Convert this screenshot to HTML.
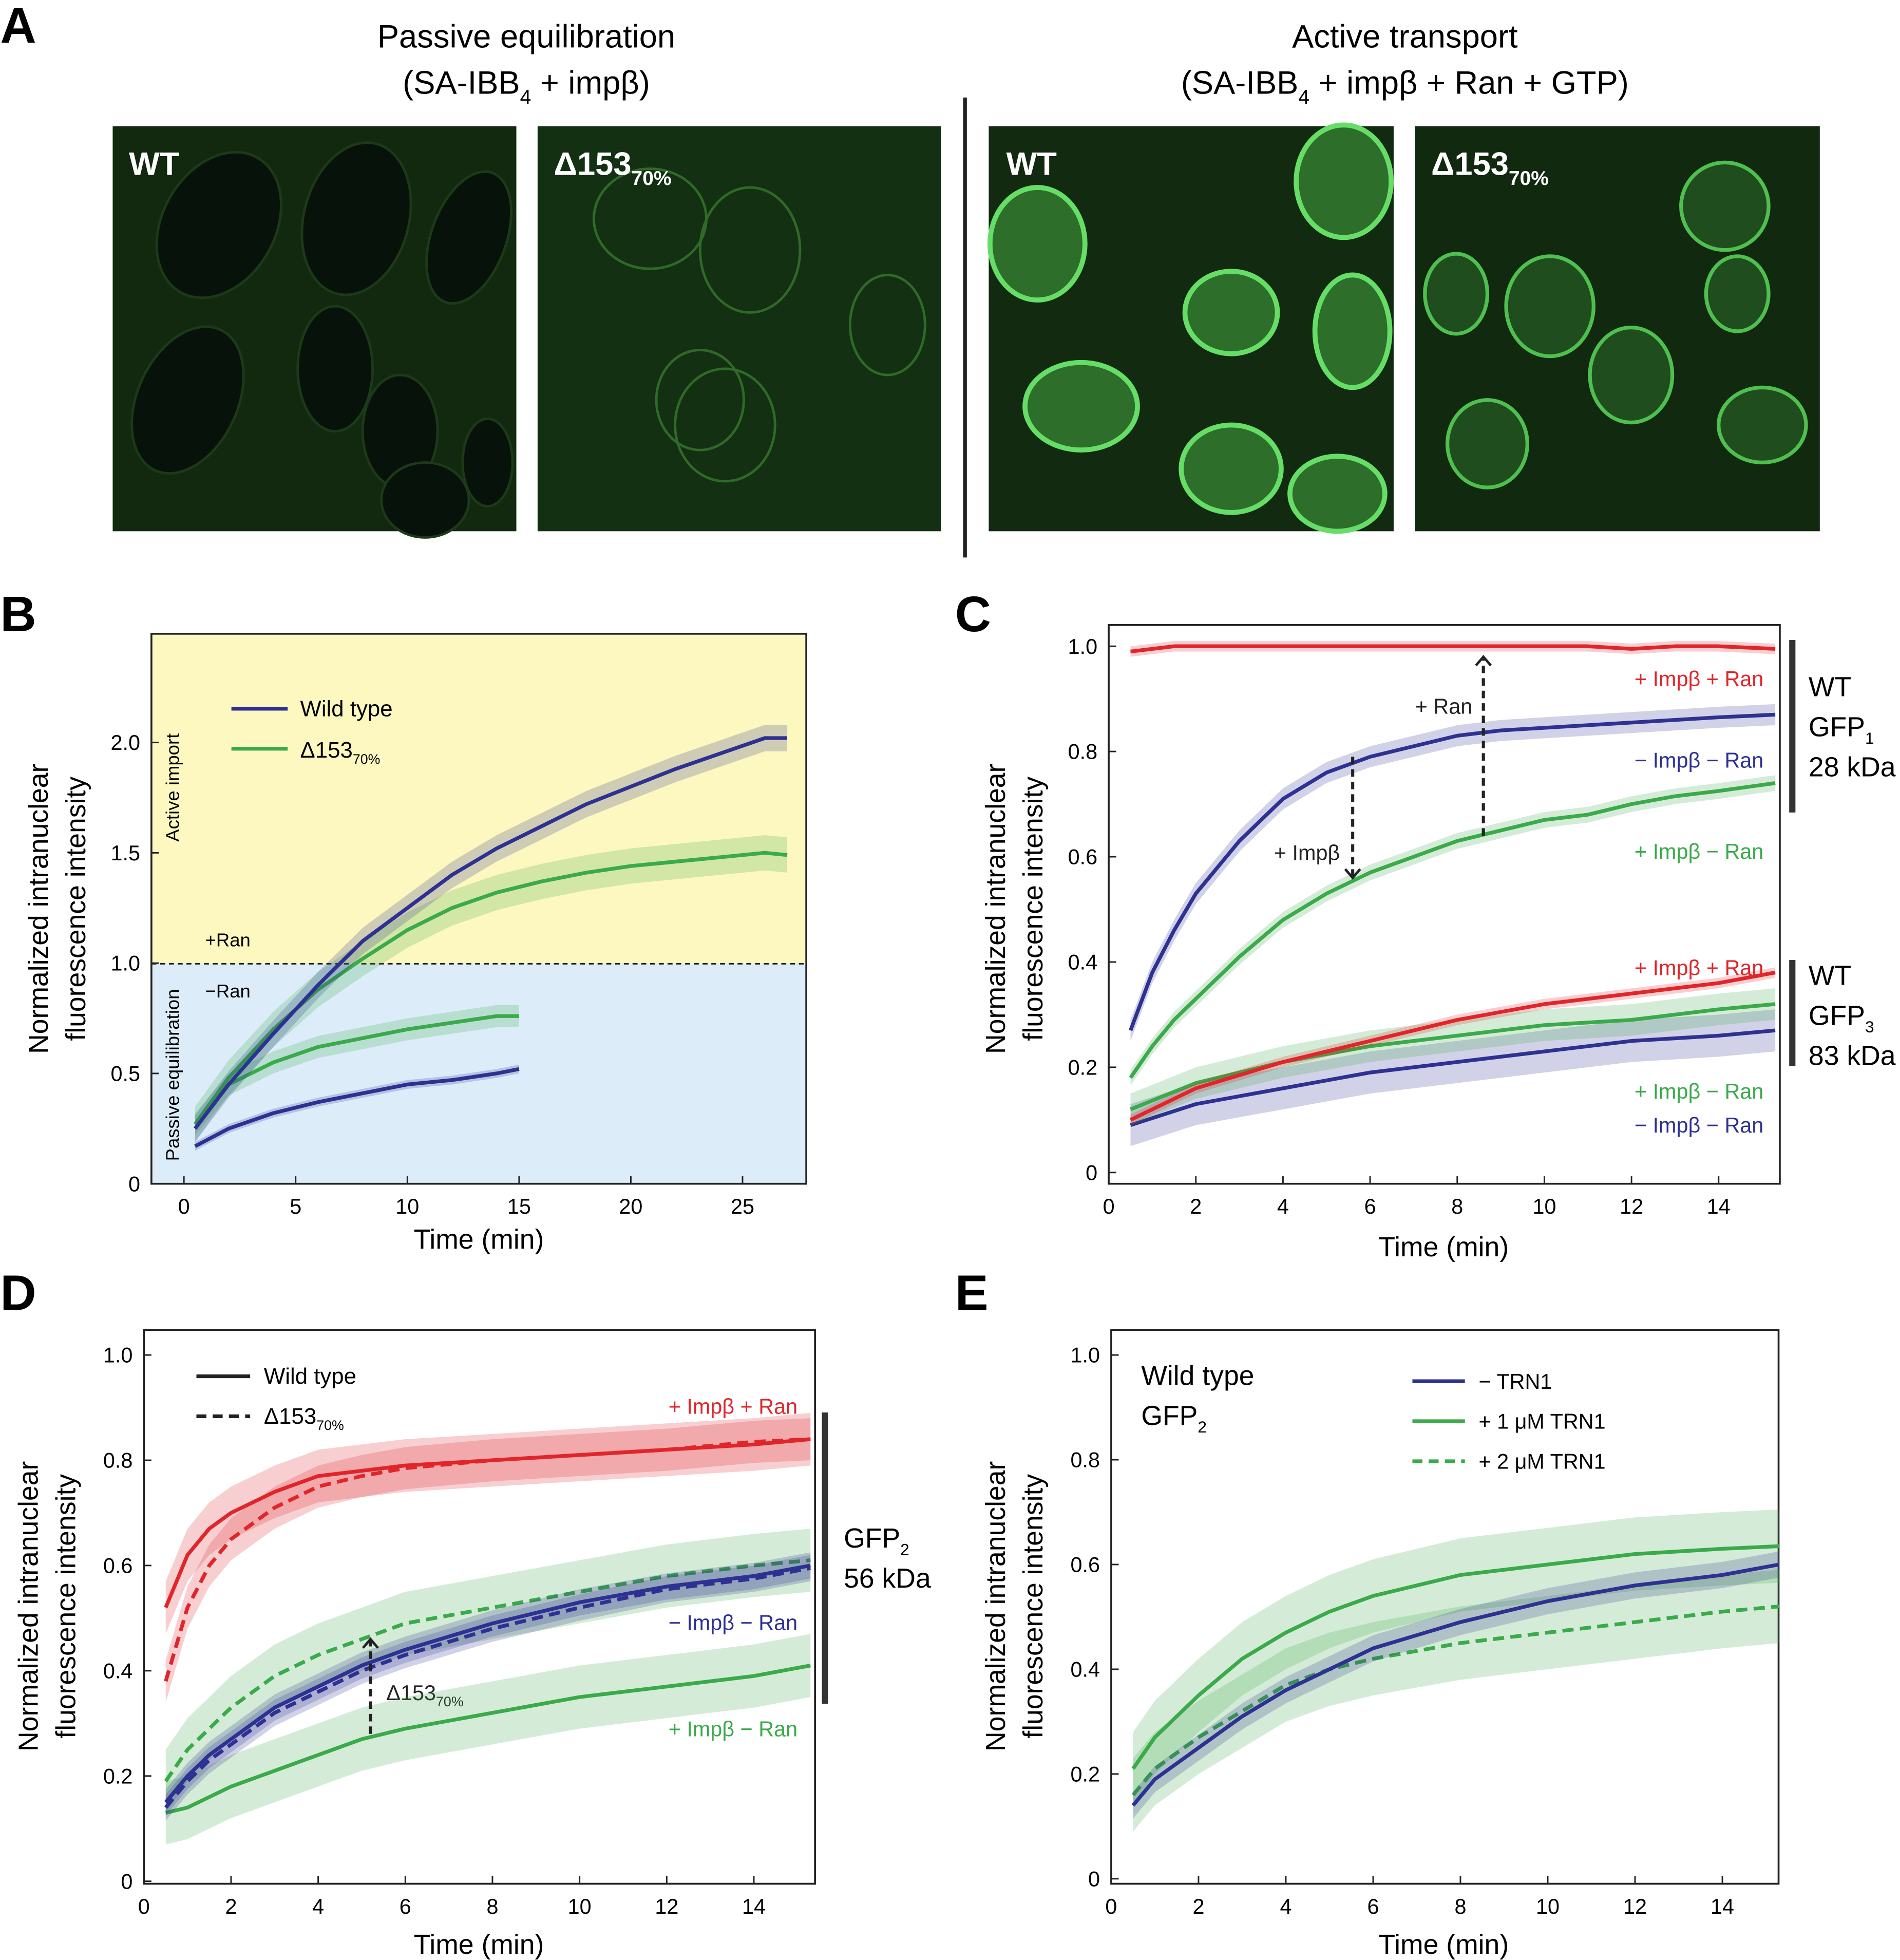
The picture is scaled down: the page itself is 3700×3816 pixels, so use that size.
<!DOCTYPE html>
<html><head><meta charset="utf-8"><style>
html,body{margin:0;padding:0;background:#fff}
svg{display:block;font-family:"Liberation Sans",Arial,sans-serif}
</style></head><body>
<svg id="fig" xmlns="http://www.w3.org/2000/svg" width="3700" height="3816" viewBox="0 0 1520 1568">
<rect width="1520" height="1568" fill="#fff"/>
<!-- Panel A -->
<g>
<text x="0" y="34" font-size="40" font-weight="bold">A</text>
<text x="421" y="38" font-size="26" text-anchor="middle">Passive equilibration</text>
<text x="421" y="75" font-size="26" text-anchor="middle">(SA-IBB<tspan font-size="16" dy="8">4</tspan><tspan dy="-8"> + impβ)</tspan></text>
<text x="1124" y="38" font-size="26" text-anchor="middle">Active transport</text>
<text x="1124" y="75" font-size="26" text-anchor="middle">(SA-IBB<tspan font-size="16" dy="8">4</tspan><tspan dy="-8"> + impβ + Ran + GTP)</tspan></text>
<line x1="772" y1="78" x2="772" y2="446" stroke="#222" stroke-width="3"/>
<g>
<rect x="90" y="101" width="323" height="324" fill="#12290f"/>
<g fill="#07130a" stroke="#1d3a18" stroke-width="2">
<ellipse cx="175" cy="180" rx="45" ry="62" transform="rotate(30 175 180)"/>
<ellipse cx="285" cy="175" rx="42" ry="62" transform="rotate(15 285 175)"/>
<ellipse cx="375" cy="190" rx="30" ry="55" transform="rotate(20 375 190)"/>
<ellipse cx="150" cy="320" rx="40" ry="62" transform="rotate(25 150 320)"/>
<ellipse cx="268" cy="295" rx="30" ry="50"/>
<ellipse cx="320" cy="345" rx="30" ry="45"/>
<ellipse cx="340" cy="400" rx="35" ry="30"/>
<ellipse cx="390" cy="370" rx="20" ry="35"/>
</g>
<text x="103" y="140" font-size="26" font-weight="bold" fill="#fff">WT</text>
</g>
<g>
<rect x="430" y="101" width="323" height="324" fill="#143012"/>
<g fill="none" stroke="#2f6a28" stroke-width="2">
<ellipse cx="520" cy="175" rx="45" ry="40"/>
<ellipse cx="600" cy="200" rx="40" ry="50"/>
<ellipse cx="560" cy="320" rx="35" ry="40"/>
<ellipse cx="580" cy="340" rx="40" ry="45"/>
<ellipse cx="710" cy="260" rx="30" ry="40"/>
</g>
<text x="443" y="140" font-size="26" font-weight="bold" fill="#fff">Δ153<tspan font-size="16" dy="8">70%</tspan></text>
</g>
<g>
<rect x="791" y="101" width="324" height="324" fill="#112a10"/>
<g fill="#2c6e2a" stroke="#66dd66" stroke-width="4">
<ellipse cx="830" cy="195" rx="38" ry="45"/>
<ellipse cx="1075" cy="145" rx="38" ry="45"/>
<ellipse cx="985" cy="250" rx="37" ry="33"/>
<ellipse cx="1082" cy="265" rx="30" ry="45"/>
<ellipse cx="865" cy="325" rx="45" ry="35"/>
<ellipse cx="985" cy="375" rx="40" ry="35"/>
<ellipse cx="1070" cy="395" rx="38" ry="30"/>
</g>
<text x="805" y="140" font-size="26" font-weight="bold" fill="#fff">WT</text>
</g>
<g>
<rect x="1132" y="101" width="324" height="324" fill="#11290f"/>
<g fill="#1f4d1e" stroke="#4fbf4f" stroke-width="3">
<ellipse cx="1380" cy="165" rx="35" ry="35"/>
<ellipse cx="1240" cy="245" rx="35" ry="40"/>
<ellipse cx="1165" cy="235" rx="25" ry="32"/>
<ellipse cx="1390" cy="235" rx="25" ry="30"/>
<ellipse cx="1305" cy="300" rx="33" ry="38"/>
<ellipse cx="1190" cy="355" rx="32" ry="35"/>
<ellipse cx="1410" cy="340" rx="35" ry="30"/>
</g>
<text x="1145" y="140" font-size="26" font-weight="bold" fill="#fff">Δ153<tspan font-size="16" dy="8">70%</tspan></text>
</g>
</g>

<!-- Panel B static -->
<g>
<text x="0" y="505" font-size="40" font-weight="bold">B</text>
<rect x="121" y="507" width="524" height="264" fill="#fdf8c0"/>
<rect x="121" y="771" width="524" height="176" fill="#dcedf9"/>
<line x1="121" y1="771" x2="645" y2="771" stroke="#222" stroke-width="1.2" stroke-dasharray="4,3"/>
<text x="143" y="630" font-size="15" transform="rotate(-90 143 630)" text-anchor="middle">Active import</text>
<text x="143" y="860" font-size="15" transform="rotate(-90 143 860)" text-anchor="middle">Passive equilibration</text>
<text x="164" y="757" font-size="15">+Ran</text>
<text x="164" y="798" font-size="15">−Ran</text>
<g>
<line x1="185" y1="567" x2="230" y2="567" stroke="#2e3192" stroke-width="3"/><text x="240" y="573" font-size="18">Wild type</text>
<line x1="185" y1="599" x2="230" y2="599" stroke="#3aaa4a" stroke-width="3"/><text x="240" y="606" font-size="18">Δ153<tspan font-size="11" dy="5">70%</tspan></text>
</g>
<text x="38" y="727" font-size="22" text-anchor="middle" transform="rotate(-90 38 727)">Normalized intranuclear</text>
<text x="68" y="727" font-size="22" text-anchor="middle" transform="rotate(-90 68 727)">fluorescence intensity</text>
<text x="383" y="999" font-size="22" text-anchor="middle">Time (min)</text>
</g>

<!-- Panel C static -->
<g>
<text x="764" y="505" font-size="40" font-weight="bold">C</text>
<text x="804" y="727" font-size="22" text-anchor="middle" transform="rotate(-90 804 727)">Normalized intranuclear</text>
<text x="834" y="727" font-size="22" text-anchor="middle" transform="rotate(-90 834 727)">fluorescence intensity</text>
<text x="1155" y="1005" font-size="22" text-anchor="middle">Time (min)</text>
<g font-size="17" text-anchor="end">
<text x="1411" y="549" fill="#e0262b">+ Impβ + Ran</text>
<text x="1411" y="614" fill="#2e3192">− Impβ − Ran</text>
<text x="1411" y="687" fill="#3aaa4a">+ Impβ − Ran</text>
<text x="1411" y="780" fill="#e0262b">+ Impβ + Ran</text>
<text x="1411" y="879" fill="#3aaa4a">+ Impβ − Ran</text>
<text x="1411" y="906" fill="#2e3192">− Impβ − Ran</text>
<text x="1178" y="571" fill="#222">+ Ran</text>
<text x="1072" y="688" fill="#222">+ Impβ</text>
</g>
<line x1="1434" y1="512" x2="1434" y2="650" stroke="#333" stroke-width="5"/>
<line x1="1434" y1="768" x2="1434" y2="853" stroke="#333" stroke-width="5"/>
<g font-size="22">
<text x="1447" y="557">WT</text><text x="1447" y="589">GFP<tspan font-size="13" dy="6">1</tspan></text><text x="1447" y="621">28 kDa</text>
<text x="1447" y="788">WT</text><text x="1447" y="820">GFP<tspan font-size="13" dy="6">3</tspan></text><text x="1447" y="852">83 kDa</text>
</g>
</g>

<!-- Panel D static -->
<g>
<text x="0" y="1048" font-size="40" font-weight="bold">D</text>
<text x="30" y="1285" font-size="22" text-anchor="middle" transform="rotate(-90 30 1285)">Normalized intranuclear</text>
<text x="60" y="1285" font-size="22" text-anchor="middle" transform="rotate(-90 60 1285)">fluorescence intensity</text>
<text x="383" y="1563" font-size="22" text-anchor="middle">Time (min)</text>
<g>
<line x1="157" y1="1101" x2="200" y2="1101" stroke="#222" stroke-width="3"/><text x="211" y="1107" font-size="18">Wild type</text>
<line x1="157" y1="1133" x2="200" y2="1133" stroke="#222" stroke-width="3" stroke-dasharray="8,5"/><text x="211" y="1139" font-size="18">Δ153<tspan font-size="11" dy="5">70%</tspan></text>
</g>
<g font-size="17" text-anchor="end">
<text x="638" y="1131" fill="#e0262b">+ Impβ + Ran</text>
<text x="638" y="1304" fill="#2e3192">− Impβ − Ran</text>
<text x="638" y="1389" fill="#3aaa4a">+ Impβ − Ran</text>
</g>
<text x="309" y="1360" font-size="17" fill="#222">Δ153<tspan font-size="11" dy="5">70%</tspan></text>
<line x1="660" y1="1130" x2="660" y2="1363" stroke="#333" stroke-width="5"/>
<text x="675" y="1238" font-size="22">GFP<tspan font-size="13" dy="6">2</tspan></text>
<text x="675" y="1270" font-size="22">56 kDa</text>
</g>

<!-- Panel E static -->
<g>
<text x="764" y="1048" font-size="40" font-weight="bold">E</text>
<text x="804" y="1285" font-size="22" text-anchor="middle" transform="rotate(-90 804 1285)">Normalized intranuclear</text>
<text x="834" y="1285" font-size="22" text-anchor="middle" transform="rotate(-90 834 1285)">fluorescence intensity</text>
<text x="1155" y="1563" font-size="22" text-anchor="middle">Time (min)</text>
<text x="913" y="1108" font-size="22">Wild type</text>
<text x="913" y="1140" font-size="22">GFP<tspan font-size="13" dy="6">2</tspan></text>
<g>
<line x1="1130" y1="1105" x2="1172" y2="1105" stroke="#2e3192" stroke-width="3"/><text x="1183" y="1111" font-size="17">− TRN1</text>
<line x1="1130" y1="1137" x2="1172" y2="1137" stroke="#3aaa4a" stroke-width="3"/><text x="1183" y="1143" font-size="17">+ 1 μM TRN1</text>
<line x1="1130" y1="1169" x2="1172" y2="1169" stroke="#3aaa4a" stroke-width="3" stroke-dasharray="8,5"/><text x="1183" y="1175" font-size="17">+ 2 μM TRN1</text>
</g>
</g>
<g id="dyn"></g>
</svg>
<script>
// ---- Panel B data ----
const bTimeActive = [0.5,2,4,6,8,10,12,14,16,18,20,22,24,26,27];
const bWtActive   = [0.25,0.45,0.68,0.9,1.1,1.25,1.4,1.52,1.62,1.72,1.8,1.88,1.95,2.02,2.02];
const bMutActive  = [0.27,0.48,0.7,0.88,1.02,1.15,1.25,1.32,1.37,1.41,1.44,1.46,1.48,1.5,1.49];
const bTimePassive = [0.5,2,4,6,8,10,12,14,15];
const bMutPassive = [0.27,0.45,0.55,0.62,0.66,0.7,0.73,0.76,0.76];
const bWtPassive  = [0.17,0.25,0.32,0.37,0.41,0.45,0.47,0.5,0.52];
const bXTicks = [0,5,10,15,20,25];
const bYTicks = [0,0.5,1.0,1.5,2.0];
const bYLabels = ['0','0.5','1.0','1.5','2.0'];
// ---- Panel C data ----
const cTime = [0.5,1,1.5,2,3,4,5,6,7,8,9,10,11,12,13,14,15.3];
const cRed1 = [0.99,0.995,1.0,1.0,1.0,1.0,1.0,1.0,1.0,1.0,1.0,1.0,1.0,0.995,1.0,1.0,0.995];
const cBlue1 = [0.27,0.38,0.46,0.53,0.63,0.71,0.76,0.79,0.81,0.83,0.84,0.845,0.85,0.855,0.86,0.865,0.87];
const cGreen1 = [0.18,0.24,0.29,0.33,0.41,0.48,0.53,0.57,0.6,0.63,0.65,0.67,0.68,0.7,0.715,0.725,0.74];
const cTime3 = [0.5,2,4,6,8,10,12,14,15.3];
const cRed3 = [0.1,0.16,0.21,0.25,0.29,0.32,0.34,0.36,0.38];
const cGreen3 = [0.12,0.17,0.21,0.24,0.26,0.28,0.29,0.31,0.32];
const cBlue3 = [0.09,0.13,0.16,0.19,0.21,0.23,0.25,0.26,0.27];
const cdXTicks = [0,2,4,6,8,10,12,14];
const cdYTicks = [0,0.2,0.4,0.6,0.8,1.0];
const cdYLabels = ['0','0.2','0.4','0.6','0.8','1.0'];
// ---- Panel D data ----
const dTime = [0.5,1,1.5,2,3,4,5,6,8,10,12,14,15.3];
const dRedWt  = [0.52,0.62,0.67,0.7,0.74,0.77,0.78,0.79,0.8,0.81,0.82,0.83,0.84];
const dRedMut = [0.38,0.52,0.6,0.65,0.71,0.75,0.77,0.785,0.8,0.81,0.82,0.835,0.84];
const dBlueWt = [0.15,0.2,0.24,0.27,0.33,0.37,0.41,0.44,0.49,0.53,0.56,0.58,0.6];
const dBlueMut= [0.14,0.19,0.23,0.26,0.32,0.36,0.4,0.43,0.48,0.52,0.555,0.575,0.595];
const dGreenWt= [0.13,0.14,0.16,0.18,0.21,0.24,0.27,0.29,0.32,0.35,0.37,0.39,0.41];
const dGreenMut=[0.19,0.25,0.29,0.33,0.39,0.43,0.46,0.49,0.52,0.55,0.58,0.6,0.61];
// ---- Panel E data ----
const eTime = [0.5,1,2,3,4,5,6,8,10,12,14,15.3];
const eGreen1 = [0.21,0.27,0.35,0.42,0.47,0.51,0.54,0.58,0.6,0.62,0.63,0.635];
const eBlue   = [0.14,0.19,0.25,0.31,0.36,0.4,0.44,0.49,0.53,0.56,0.58,0.6];
const eGreen2 = [0.16,0.21,0.27,0.32,0.37,0.4,0.42,0.45,0.47,0.49,0.51,0.52];

const NS='http://www.w3.org/2000/svg';
const root=document.getElementById('dyn');
function el(tag,attrs,parent){const e=document.createElementNS(NS,tag);for(const k in attrs)e.setAttribute(k,attrs[k]);(parent||root).appendChild(e);return e;}
const BLUE='#2e3192',GREEN='#3aaa4a',RED='#e0262b';

function axes(ax,name,xt,yt,yl){
  const g=el('g',{});
  
  
  const f=el('rect',{x:ax.x0,y:ax.y0,width:ax.x1-ax.x0,height:ax.y1-ax.y0,fill:'none',stroke:'#222','stroke-width':1.5},g);
  
  
  xt.forEach(v=>{const x=ax.sx(v);
    el('line',{x1:x,y1:ax.y1,x2:x,y2:ax.y1-6,stroke:'#222','stroke-width':1.2},g);
    const t=el('text',{x:x,y:ax.y1+24,'font-size':17,'text-anchor':'middle'},g);t.textContent=v;
    
    });
  yt.forEach((v,i)=>{const y=ax.sy(v);
    el('line',{x1:ax.x0,y1:y,x2:ax.x0+6,y2:y,stroke:'#222','stroke-width':1.2},g);
    const t=el('text',{x:ax.x0-9,y:y+6,'font-size':17,'text-anchor':'end'},g);t.textContent=yl[i];
    
    });
}
function series(ax,name,xs,ys,color,dash,band){
  let up='',lo=[];
  xs.forEach((x,i)=>{up+=ax.sx(x)+','+ax.sy(ys[i]+band)+' ';lo.unshift(ax.sx(x)+','+ax.sy(ys[i]-band));});
  const b=el('polygon',{points:up+lo.join(' '),fill:color,'fill-opacity':0.22});
  
  
  const p=el('polyline',{points:xs.map((x,i)=>ax.sx(x)+','+ax.sy(ys[i])).join(' '),fill:'none',stroke:color,'stroke-width':3,'stroke-dasharray':dash?'9,5':'none','stroke-linejoin':'round'});
  
  
}
function arrow(x,y1,y2,name){
  const l=el('line',{x1:x,y1:y1,x2:x,y2:y2,stroke:'#222','stroke-width':2.5,'stroke-dasharray':'6,4'});
  
  
  const d=y2<y1?7:-7;
  el('polyline',{points:(x-6)+','+(y2+d)+' '+x+','+y2+' '+(x+6)+','+(y2+d),fill:'none',stroke:'#222','stroke-width':2});
}
function mkAx(x0,x1,y0,y1,xz,xpx,yz,ypx){return {x0,x1,y0,y1,sx:v=>xz+v*xpx,sy:v=>yz-v*ypx};}

const axB=mkAx(121,645,507,947,147,17.88,947,176.5);
axes(axB,'b',bXTicks,bYTicks,bYLabels);
series(axB,'b-wt-passive',bTimePassive,bWtPassive,BLUE,false,0.02);
series(axB,'b-mut-passive',bTimePassive,bMutPassive,GREEN,false,0.05);
series(axB,'b-mut-active',bTimeActive,bMutActive,GREEN,false,0.08);
series(axB,'b-wt-active',bTimeActive,bWtActive,BLUE,false,0.06);

const axC=mkAx(887,1424,500,947,887,34.86,938,421);
axes(axC,'c',cdXTicks,cdYTicks,cdYLabels);
series(axC,'c-gfp3-blue',cTime3,cBlue3,BLUE,false,0.04);
series(axC,'c-gfp3-green',cTime3,cGreen3,GREEN,false,0.03);
series(axC,'c-gfp3-red',cTime3,cRed3,RED,false,0.01);
series(axC,'c-gfp1-green',cTime,cGreen1,GREEN,false,0.015);
series(axC,'c-gfp1-blue',cTime,cBlue1,BLUE,false,0.02);
series(axC,'c-gfp1-red',cTime,cRed1,RED,false,0.01);
arrow(axC.sx(8.6),axC.sy(0.64),axC.sy(0.98),'ran-arrow');
arrow(axC.sx(5.6),axC.sy(0.79),axC.sy(0.56),'impb-arrow');

const axD=mkAx(115,652,1064,1507,115,34.86,1505,421);
axes(axD,'d',cdXTicks,cdYTicks,cdYLabels);
series(axD,'d-green-wt',dTime,dGreenWt,GREEN,false,0.06);
series(axD,'d-green-mut',dTime,dGreenMut,GREEN,true,0.06);
series(axD,'d-blue-wt',dTime,dBlueWt,BLUE,false,0.025);
series(axD,'d-blue-mut',dTime,dBlueMut,BLUE,true,0.025);
series(axD,'d-red-wt',dTime,dRedWt,RED,false,0.05);
series(axD,'d-red-mut',dTime,dRedMut,RED,true,0.04);
arrow(axD.sx(5.2),axD.sy(0.28),axD.sy(0.46),'d153-arrow');

const axE=mkAx(889,1423,1064,1507,889,34.93,1503,419);
axes(axE,'e',cdXTicks,cdYTicks,cdYLabels);
series(axE,'e-green-2um',eTime,eGreen2,GREEN,true,0.07);
series(axE,'e-green-1um',eTime,eGreen1,GREEN,false,0.07);
series(axE,'e-blue',eTime,eBlue,BLUE,false,0.025);
</script>
</body></html>
